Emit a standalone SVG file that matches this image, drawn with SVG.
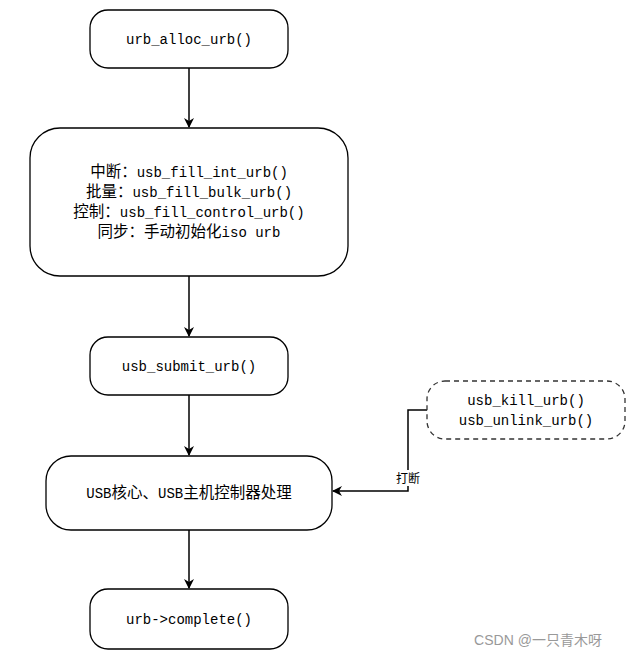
<svg xmlns="http://www.w3.org/2000/svg" width="636" height="659" viewBox="0 0 636 659">
<style>
.n{fill:#fff;stroke:#000;stroke-width:1.3}
.d{fill:#fff;stroke:#333;stroke-width:1.3;stroke-dasharray:5 4}
text{font-family:"Liberation Mono","Noto Sans CJK SC",monospace;font-size:14px;fill:#000;text-anchor:middle}
.k{font-size:15.5px}
.c{fill:none;stroke:#000;stroke-width:1.5}
</style>
<defs><marker id="a" markerWidth="10" markerHeight="10" refX="9" refY="5" orient="auto" markerUnits="userSpaceOnUse"><path d="M0,0 L10,5 L0,10 L3,5 z" fill="#000"/></marker></defs>
<rect width="636" height="659" fill="#fff"/>
<g id="connectors">
<line class="c" x1="189" y1="68" x2="189" y2="127" marker-end="url(#a)"/>
<line class="c" x1="189" y1="276" x2="189" y2="336" marker-end="url(#a)"/>
<line class="c" x1="189" y1="395" x2="189" y2="455" marker-end="url(#a)"/>
<line class="c" x1="189" y1="530" x2="189" y2="588" marker-end="url(#a)"/>
<path class="c" d="M427,410 H408 V491 H333" marker-end="url(#a)"/>
<rect x="393" y="470" width="30" height="16" fill="#fff"/>
<text x="408" y="483" style="font-size:12px">打断</text>
</g>
<g id="n1"><rect class="n" x="90" y="10" width="198" height="58" rx="18"/><text x="189" y="44">urb_alloc_urb()</text></g>
<g id="n2"><rect class="n" x="30" y="128" width="318" height="148" rx="30"/>
<text x="189" y="177"><tspan class="k">中断：</tspan>usb_fill_int_urb()</text>
<text x="189" y="197"><tspan class="k">批量：</tspan>usb_fill_bulk_urb()</text>
<text x="189" y="217"><tspan class="k">控制：</tspan>usb_fill_control_urb()</text>
<text x="189" y="237"><tspan class="k">同步：手动初始化</tspan>iso urb</text></g>
<g id="n3"><rect class="n" x="90" y="337" width="198" height="58" rx="18"/><text x="189" y="371">usb_submit_urb()</text></g>
<g id="n4"><rect class="n" x="46" y="456" width="286" height="74" rx="25"/><text x="189" y="498">USB<tspan class="k">核心、</tspan>USB<tspan class="k">主机控制器处理</tspan></text></g>
<g id="n5"><rect class="n" x="90" y="589" width="198" height="60" rx="18"/><text x="189" y="624">urb-&gt;complete()</text></g>
<g id="n6"><rect class="d" x="427" y="381" width="198" height="58" rx="18"/>
<text x="526" y="405">usb_kill_urb()</text><text x="526" y="425">usb_unlink_urb()</text></g>
<text x="538" y="645" style="font-family:'Liberation Sans','Noto Sans CJK SC',sans-serif;font-size:14px;fill:#999">CSDN @一只青木呀</text>
</svg>
